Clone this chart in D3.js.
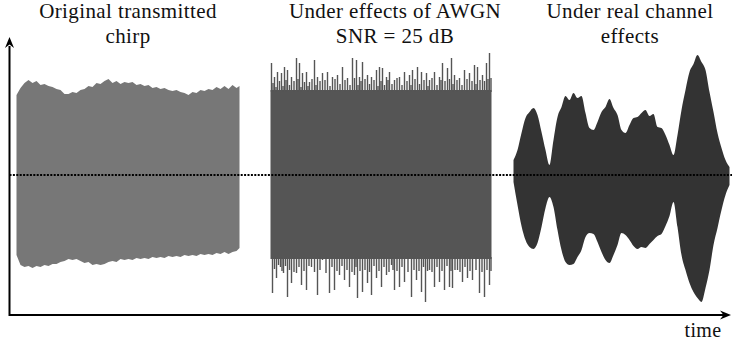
<!DOCTYPE html>
<html>
<head>
<meta charset="utf-8">
<script src="https://cdn.jsdelivr.net/npm/d3@7"></script>
<style>
  body { margin: 0; background: #fff; }
</style>
</head>
<body>
<div id="chart"></div>
<script>
// panel titles
const titles = [
  ['Original transmitted', 'chirp'],
  ['Under effects of AWGN', 'SNR = 25 dB'],
  ['Under real channel', 'effects'],
];

// original chirp envelope (time, amplitude)
const origTime = [7, 11, 15, 19, 23, 27, 31, 35, 39, 43, 47, 51, 55, 59, 63, 67, 71, 75, 79, 83,
  87, 91, 95, 99, 103, 107, 111, 115, 119, 123, 127, 131, 135, 139, 143, 147, 151, 155, 159, 163,
  167, 171, 175, 179, 183, 187, 191, 195, 199, 203, 207, 211, 215, 219, 223, 227, 230];
const origUpper = [80, 87, 92, 95, 92, 94, 90, 91, 89, 88, 86, 85, 81, 81, 83, 82, 85, 86, 89, 88,
  92, 91, 94, 96, 92, 94, 91, 93, 92, 93, 90, 91, 89, 90, 87, 88, 86, 87, 85, 84,
  85, 83, 82, 80, 83, 82, 85, 84, 86, 85, 88, 86, 89, 86, 90, 87, 89];
const origLower = [-80, -90, -92, -91, -93, -91, -92, -90, -91, -89, -89, -87, -86, -84, -85, -84, -86, -88, -87, -90,
  -89, -90, -89, -87, -86, -87, -84, -85, -84, -85, -83, -84, -83, -84, -82, -83, -82, -83, -81, -82,
  -81, -82, -80, -81, -80, -81, -79, -80, -79, -80, -78, -79, -77, -79, -77, -76, -73];

// AWGN: dense body plus noise spikes
const awgnTime = [261, 482];
const awgnUpper = [85, 85];
const awgnLower = [-84, -84];
const awgnUpTime = [262, 263.5, 265, 266.5, 268, 270, 272, 273.5, 275, 276.5, 278, 280, 282, 284.5, 287, 288.5,
  290, 291.5, 293, 295, 297, 298.5, 300, 302.5, 305, 306.5, 308, 310.5, 313, 315.5, 318, 320.5, 323, 325.5,
  328, 330.5, 333, 335.5, 338, 340.5, 343, 345, 347, 348.5, 350, 351.5, 353, 355.5, 358, 360, 362, 364.5,
  367, 368.5, 370, 371.5, 373, 375, 377, 378.5, 380, 382.5, 385, 387.5, 390, 392.5, 395, 397.5, 400, 401.5,
  403, 405.5, 408, 410, 412, 414.5, 417, 418.5, 420, 422.5, 425, 427.5, 430, 431.5, 433, 435.5, 438, 440,
  442, 443.5, 445, 447.5, 450, 452.5, 455, 457.5, 460, 462.5, 465, 466.5, 468, 470.5, 473, 475, 477, 478.5,
  480, 481.5];
const awgnUp = [112, 92, 98, 88, 103, 94, 102, 89, 108, 95, 105, 90, 98, 94, 117, 96,
  112, 88, 102, 93, 103, 89, 93, 96, 115, 90, 98, 94, 102, 95, 103, 89, 98, 96,
  100, 91, 108, 95, 97, 90, 117, 97, 115, 90, 98, 94, 113, 96, 100, 91, 98, 95,
  105, 89, 108, 94, 107, 90, 98, 95, 103, 91, 95, 97, 98, 90, 103, 94, 100, 90,
  105, 96, 108, 91, 103, 95, 102, 89, 95, 97, 103, 90, 98, 95, 112, 94, 107, 96,
  117, 91, 100, 95, 97, 90, 105, 96, 102, 94, 110, 91, 108, 95, 100, 94, 112, 96,
  122, 97];
const awgnDownTime = [263, 265, 267, 269, 271, 272.5, 274, 276, 278, 280, 282, 284.5, 287, 289.5, 292, 294.5,
  297, 299.5, 302, 305, 308, 310.5, 313, 316.5, 320, 322.5, 325, 327.5, 330, 332.5, 335, 337.5, 340, 342.5,
  345, 346.5, 348, 350.5, 353, 355.5, 358, 360, 362, 364.5, 367, 369.5, 372, 374.5, 377, 379.5, 382, 383.5,
  385, 387.5, 390, 392.5, 395, 398.5, 402, 404.5, 407, 409.5, 412, 414, 416, 418, 420, 422.5, 425, 427.5,
  430, 432.5, 435, 437.5, 440, 441.5, 443, 445.5, 448, 450.5, 453, 455.5, 458, 460.5, 463, 466.5, 470, 472.5,
  475, 477.5, 480, 481.5];
const awgnDown = [-118, -94, -103, -90, -92, -96, -98, -91, -122, -95, -108, -97, -98, -92, -110, -96,
  -115, -91, -92, -97, -120, -95, -85, -98, -118, -92, -115, -96, -100, -91, -105, -95, -112, -97,
  -100, -92, -123, -96, -117, -95, -108, -97, -120, -91, -103, -96, -112, -92, -100, -97, -90, -95,
  -115, -96, -112, -92, -107, -97, -122, -95, -105, -96, -117, -92, -127, -96, -95, -97, -112, -92,
  -107, -96, -115, -91, -112, -96, -113, -95, -95, -97, -107, -92, -103, -96, -105, -95, -118, -97,
  -122, -95, -110, -96];

// real channel envelope
const realTime = [504, 508, 512, 516, 520, 524, 528, 532, 536, 540, 544, 548, 552, 556, 560, 564, 568, 572, 576, 580,
  584, 588, 592, 596, 600, 604, 608, 612, 616, 620, 624, 628, 632, 636, 640, 644, 648, 652, 656, 660,
  664, 668, 672, 676, 680, 684, 688, 692, 696, 700, 704, 708, 712, 716, 720];
const realUpper = [15, 25, 42, 57, 63, 67, 60, 43, 25, 10, 35, 58, 68, 79, 75, 82, 77, 79, 62, 47,
  45, 53, 63, 68, 76, 67, 60, 45, 42, 50, 57, 58, 62, 65, 59, 61, 48, 47, 40, 30,
  20, 40, 65, 85, 103, 111, 120, 113, 105, 83, 63, 42, 27, 15, 8];
const realLower = [-7, -30, -51, -65, -72, -74, -68, -52, -33, -22, -32, -55, -75, -87, -90, -89, -82, -75, -62, -58,
  -59, -67, -77, -85, -88, -80, -70, -58, -60, -65, -71, -74, -72, -73, -69, -65, -61, -59, -51, -41,
  -27, -52, -80, -95, -108, -117, -123, -127, -113, -95, -70, -53, -35, -20, -10];

const width = 732, height = 344;
const font = "'Liberation Serif', 'DejaVu Serif', serif";

const svg = d3.select('#chart').append('svg')
  .attr('width', width)
  .attr('height', height);

const x = d3.scaleLinear().domain([0, 720]).range([9.5, 729.5]);
const y = d3.scaleLinear().domain([-140, 140]).range([315, 35]);

function zip(t, a, b) {
  return t.map((d, i) => ({ t: d, hi: a[i], lo: b[i] }));
}

const area = d3.area()
  .x((d) => x(d.t))
  .y0((d) => y(d.lo))
  .y1((d) => y(d.hi));

// original chirp
svg.append('path')
  .datum(zip(origTime, origUpper, origLower))
  .attr('d', area)
  .attr('fill', '#777777');

// AWGN
svg.append('path')
  .datum(zip(awgnTime, awgnUpper, awgnLower))
  .attr('d', area)
  .attr('fill', '#555555');

function spikes(times, amps, base) {
  svg.append('g')
    .selectAll('line')
    .data(times.map((t, i) => ({ t, a: amps[i] })))
    .join('line')
    .attr('x1', (d) => x(d.t))
    .attr('x2', (d) => x(d.t))
    .attr('y1', (d) => y(d.a))
    .attr('y2', y(base))
    .attr('stroke', '#555555')
    .attr('stroke-width', 1.4);
}
spikes(awgnUpTime, awgnUp, awgnUpper[0] - 2);
spikes(awgnDownTime, awgnDown, awgnLower[0] + 2);

// real channel
svg.append('path')
  .datum(zip(realTime, realUpper, realLower))
  .attr('d', area.curve(d3.curveMonotoneX))
  .attr('fill', '#333333');

// zero line
svg.append('line')
  .attr('x1', x(0))
  .attr('x2', width)
  .attr('y1', y(0))
  .attr('y2', y(0))
  .attr('stroke', '#000')
  .attr('stroke-width', 2)
  .attr('stroke-dasharray', '2,1.4');

// axes with arrow heads
const x0 = x(0), yb = y(-140);
svg.append('line')
  .attr('x1', x0).attr('x2', 724)
  .attr('y1', yb).attr('y2', yb)
  .attr('stroke', '#000').attr('stroke-width', 2);
svg.append('line')
  .attr('x1', x0).attr('x2', x0)
  .attr('y1', yb + 1).attr('y2', 46)
  .attr('stroke', '#000').attr('stroke-width', 2);

svg.append('path')
  .attr('d', `M731,${yb} L720,${yb - 4.5} L723.5,${yb} L720,${yb + 4.5} Z`)
  .attr('fill', '#000');
svg.append('path')
  .attr('d', `M${x0},37 L${x0 - 4.5},48 L${x0},44.5 L${x0 + 4.5},48 Z`)
  .attr('fill', '#000');

svg.append('text')
  .attr('x', 703)
  .attr('y', 337)
  .attr('text-anchor', 'middle')
  .attr('font-family', font)
  .attr('font-size', 20)
  .attr('letter-spacing', 0.4)
  .attr('fill', '#111')
  .text('time');

// titles
const titleX = [128, 395, 630];
titles.forEach((lines, i) => {
  lines.forEach((s, j) => {
    svg.append('text')
      .attr('x', titleX[i])
      .attr('y', 18 + j * 25)
      .attr('text-anchor', 'middle')
      .attr('font-family', font)
      .attr('font-size', 21)
      .attr('letter-spacing', 0.4)
      .attr('fill', '#111')
      .text(s);
  });
});
</script>
</body>
</html>
